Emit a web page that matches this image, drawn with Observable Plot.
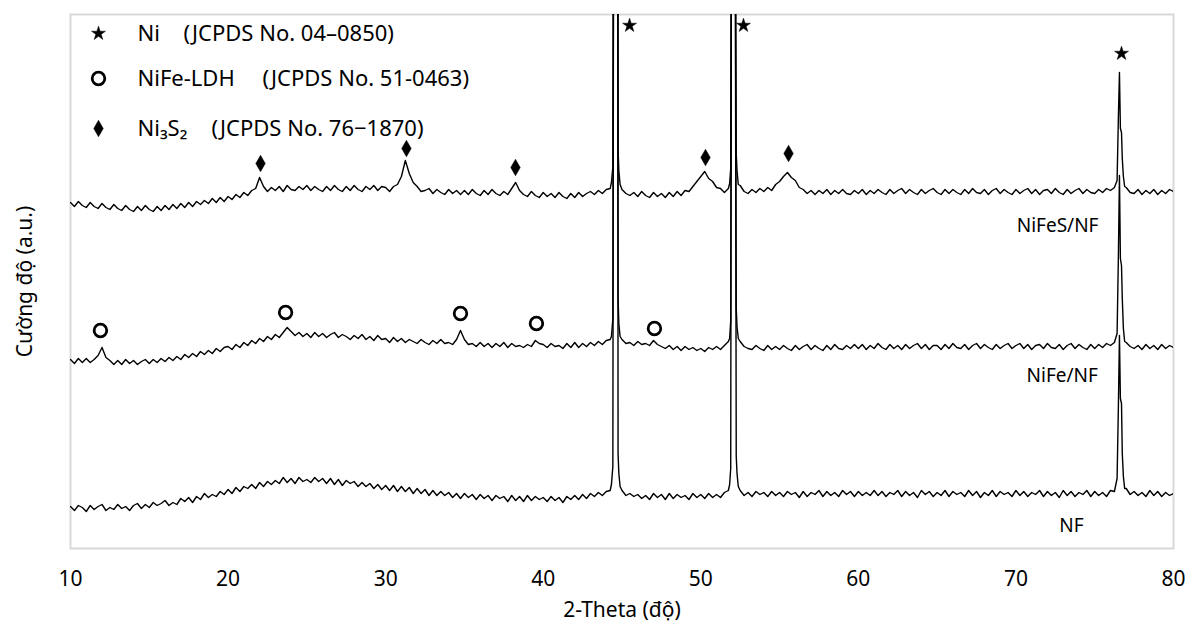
<!DOCTYPE html>
<html><head><meta charset="utf-8">
<script src="https://cdn.jsdelivr.net/npm/d3@7"></script>
<script src="https://cdn.jsdelivr.net/npm/@observablehq/plot@0.6"></script>
<style>html,body{margin:0;padding:0;background:#fff;} svg{display:block}</style>
</head><body><div id="chart"></div>
<script>
// ---- data (2-theta sampling grid: 10° .. 80°, step 0.25°) ----
const gridStart = 10, gridStep = 0.25;
const xTicks = [10, 20, 30, 40, 50, 60, 70, 80];

// NF (intensity, a.u.)
const nfGrid = [
  42,38,43,41,37,43,39,42,44,38,41,39,44,40,42,38,43,45,40,44,
  41,46,43,45,48,43,46,44,50,47,51,46,52,49,55,51,54,52,57,54,
  59,55,61,57,62,60,64,60,66,62,67,64,68,65,71,66,70,65,71,67,
  69,66,71,67,70,65,70,64,69,63,68,65,67,62,66,62,65,60,64,59,
  63,58,63,57,62,57,61,55,60,55,59,53,58,53,57,53,56,51,55,50,
  55,51,54,49,54,50,53,48,53,50,52,47,53,48,52,47,53,48,52,49,
  51,47,52,48,51,46,52,49,53,49,54,50,55,52,56,53,57,58,700,95,
  58,53,55,52,54,50,53,49,55,51,54,49,55,50,54,51,53,49,55,51,
  54,50,55,51,54,51,56,58,700,92,58,53,56,52,57,54,56,52,57,53,
  56,52,57,54,56,51,57,52,56,54,58,52,57,53,56,52,58,54,57,52,
  57,53,56,53,58,53,57,52,56,54,58,52,57,53,56,51,58,54,57,52,
  56,53,58,52,57,54,56,52,58,53,57,51,56,53,58,52,57,54,56,52,
  58,53,57,52,56,54,58,52,57,53,56,51,58,53,57,52,56,54,58,52,
  57,53,56,52,58,57,140,95,60,54,57,53,56,52,58,53,57,52,56,53,
  55
];
// NiFe/NF
const nifeGrid = [
  189,185,190,186,190,186,189,193,201,191,188,184,188,184,189,185,188,184,187,189,
  185,189,186,190,187,191,188,192,189,194,191,195,192,197,194,198,195,200,197,201,
  202,199,204,201,206,203,208,205,210,207,212,209,214,211,216,221,217,213,216,212,
  215,211,216,212,215,211,214,216,211,214,212,209,213,210,214,209,212,208,213,209,
  210,206,211,207,210,206,209,207,205,209,206,204,208,205,209,205,206,204,209,218,
  209,204,205,202,206,202,205,201,205,202,206,201,205,202,203,201,204,202,208,205,
  204,201,205,202,203,200,205,201,206,201,205,202,206,203,207,204,208,209,700,250,
  209,205,206,203,207,204,205,203,208,204,202,200,203,199,202,198,202,199,201,198,
  200,197,201,199,202,199,203,207,700,240,207,202,200,199,203,200,198,203,199,202,
  199,203,200,198,203,199,202,204,199,203,200,198,203,199,204,200,199,203,200,204,
  200,204,199,203,200,205,201,199,204,200,203,199,204,200,203,205,200,204,199,203,
  203,199,204,200,205,201,200,204,199,203,205,200,204,201,199,204,200,203,205,200,
  203,205,200,204,199,203,204,200,205,201,200,204,199,203,205,200,204,201,199,204,
  200,204,201,205,203,206,290,250,206,202,200,203,199,204,200,203,199,204,200,203,
  201
];
// NiFeS/NF
const nifesGrid = [
  346,342,347,343,341,346,342,340,345,341,339,344,340,338,343,339,337,342,338,343,
  339,337,342,338,343,339,344,340,345,341,346,342,347,344,348,345,350,346,351,347,
  352,349,354,351,356,353,358,360,371,362,357,361,358,362,357,363,359,358,362,359,
  363,358,362,359,357,362,358,363,359,357,362,358,363,359,357,362,359,363,358,362,
  361,357,362,364,372,388,375,366,362,357,358,360,355,359,356,354,359,355,358,354,
  358,354,359,355,353,358,354,359,355,353,357,354,360,366,358,354,352,357,353,351,
  356,352,355,351,356,352,350,355,351,356,352,355,357,354,358,355,359,360,700,400,
  359,355,353,356,352,357,353,351,356,352,355,351,356,352,357,353,358,357,362,367,
  372,377,370,367,361,360,356,360,700,395,363,357,355,359,356,360,357,361,358,364,
  367,372,376,371,368,361,359,355,358,354,358,355,359,354,358,355,359,355,354,358,
  355,359,354,358,355,359,356,354,359,355,358,360,355,359,356,354,359,355,358,360,
  356,354,359,355,359,356,354,359,355,360,356,355,359,354,358,360,355,359,356,354,
  359,355,358,360,355,359,354,358,359,355,360,356,354,359,355,358,360,355,359,356,
  355,359,356,360,358,361,430,390,361,356,355,359,354,358,355,359,354,358,355,359,
  357
];

// extra fine points across the sharp Ni reflections
const peakTheta = [44.33,44.42,44.47,44.73,44.8,44.88, 51.83,51.9,51.95,52.18,52.3,52.38, 76.42,76.57,76.63,76.7,76.82,76.9];
const nfPeak    = [64,82,700,700,75,62, 64,80,700,700,75,62, 70,213,150,145,72,60];
const nifePeak  = [212,230,700,700,225,212, 210,228,700,700,222,210, 215,373,290,283,220,207];
const nifesPeak = [366,382,700,700,378,364, 365,380,700,700,378,364, 368,476,420,416,372,362];

// phase markers
const markerPhase = ["Ni","Ni","Ni", "LDH","LDH","LDH","LDH","LDH", "S","S","S","S","S"];
const markerTheta = [45.48,52.71,76.7, 11.9,23.65,34.75,39.57,47.06, 22.06,31.32,38.24,50.3,55.57];
const markerValue = [523,523,495, 218,236,235,225,220, 385,400,381,391,395];

// series labels
const seriesNames = ["NiFeS/NF","NiFe/NF","NF"];
const labelTheta = [75.24, 75.2, 74.29];
const labelValue = [323, 173, 23];

// legend
const legendSymbol = ["star","circle","diamond"];
const legendName = ["Ni","NiFe-LDH","Ni\u2083S\u2082"];
const legendRef = ["(JCPDS No. 04\u20130850)","(JCPDS No. 51-0463)","(JCPDS No. 76\u22121870)"];

// ---- build ----
function buildSeries(name, grid, peaks) {
  const pts = grid.map((v, i) => ({theta: gridStart + i * gridStep, value: v, series: name}));
  peakTheta.forEach((t, i) => pts.push({theta: t, value: peaks[i], series: name}));
  pts.sort((a, b) => a.theta - b.theta);
  return pts;
}
const lines = [
  ...buildSeries("NF", nfGrid, nfPeak),
  ...buildSeries("NiFe/NF", nifeGrid, nifePeak),
  ...buildSeries("NiFeS/NF", nifesGrid, nifesPeak)
];
const markers = markerPhase.map((p, i) => ({phase: p, theta: markerTheta[i], value: markerValue[i]}));
const labels = seriesNames.map((n, i) => ({name: n, theta: labelTheta[i], value: labelValue[i]}));

const symR = {star: 4.4, circle: 6.3, diamond: 5};
const FONT = "'Noto Sans', 'DejaVu Sans', sans-serif";

const legendMarks = [];
const rowDy = [19, 64, 114];
const refDx = [113, 192, 141];
legendSymbol.forEach((s, i) => {
  legendMarks.push(Plot.dot([s], {frameAnchor: "top-left", dx: 28, dy: rowDy[i], symbol: () => s,
    r: symR[s], fill: s === "circle" ? "#fff" : "#000", stroke: "#000", strokeWidth: s === "circle" ? 2.8 : 0.5}));
  legendMarks.push(Plot.text([legendName[i]], {frameAnchor: "top-left", dx: 67, dy: rowDy[i], text: d => d, textAnchor: "start", lineAnchor: "middle", fontSize: 22}));
  legendMarks.push(Plot.text([legendRef[i]], {frameAnchor: "top-left", dx: refDx[i], dy: rowDy[i], text: d => d, textAnchor: "start", lineAnchor: "middle", fontSize: 22}));
});

const chart = Plot.plot({
  width: 1190, height: 628,
  marginLeft: 70, marginRight: 17, marginTop: 14, marginBottom: 80,
  style: {fontFamily: FONT, fontSize: "21px", color: "#000", background: "#fff"},
  x: {domain: [10, 80]},
  y: {domain: [0, 534], axis: null},
  marks: [
    Plot.frame({stroke: "#d9d9d9", strokeWidth: 2}),
    Plot.axisX({ticks: xTicks, tickSize: 0, tickPadding: 23, fontSize: 21, label: null, tickFormat: d => String(d)}),
    Plot.lineY(lines, {x: "theta", y: "value", z: "series", stroke: "#000", strokeWidth: 1.4, clip: true}),
    Plot.dot(markers.filter(d => d.phase === "Ni"), {x: "theta", y: "value", symbol: "star", r: symR.star, fill: "#000", stroke: "#000", strokeWidth: 0.5}),
    Plot.dot(markers.filter(d => d.phase === "LDH"), {x: "theta", y: "value", symbol: "circle", r: symR.circle, fill: "#fff", stroke: "#000", strokeWidth: 2.8}),
    Plot.dot(markers.filter(d => d.phase === "S"), {x: "theta", y: "value", symbol: "diamond", r: symR.diamond, fill: "#000", stroke: "#000", strokeWidth: 0.5}),
    Plot.text(labels, {x: "theta", y: "value", text: "name", textAnchor: "end", fontSize: 19}),
    ...legendMarks,
    Plot.text(["2-Theta (độ)"], {frameAnchor: "bottom", dy: 62, text: d => d, fontSize: 21, lineAnchor: "middle", textAnchor: "middle"}),
    Plot.text(["Cường độ (a.u.)"], {frameAnchor: "left", dx: -45, rotate: -90, text: d => d, fontSize: 21, textAnchor: "middle", lineAnchor: "middle"})
  ]
});
document.getElementById("chart").appendChild(chart);
</script>
</body></html>
